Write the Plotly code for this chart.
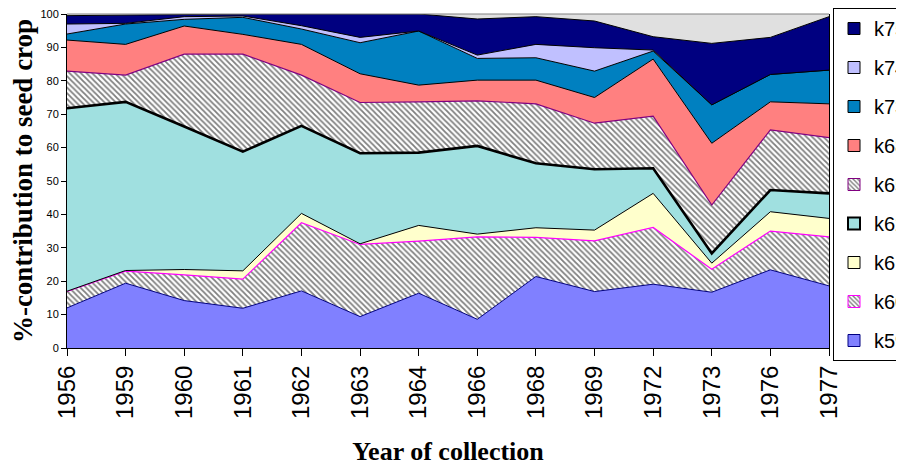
import plotly.graph_objects as go

years = ["1956", "1959", "1960", "1961", "1962", "1963", "1964",
         "1966", "1968", "1969", "1972", "1973", "1976", "1977"]

k59 = [12.0, 19.4, 14.2, 11.9, 17.1, 9.4, 16.4, 8.6, 21.4, 16.9, 19.1, 16.7, 23.4, 18.6]
k60 = [4.9, 3.6, 7.7, 8.7, 20.4, 21.6, 15.6, 24.7, 11.7, 15.2, 17.0, 6.9, 11.6, 14.7]
k61 = [0.1, 0.2, 1.6, 2.5, 2.8, 0.2, 4.7, 0.8, 2.9, 3.2, 10.2, 1.8, 5.8, 5.5]
k62 = [54.8, 50.5, 42.8, 35.7, 26.2, 27.1, 21.8, 26.4, 19.3, 18.2, 7.5, 2.9, 6.5, 7.5]
k65 = [11.1, 8.0, 21.7, 29.2, 15.2, 15.2, 15.2, 13.5, 17.8, 13.8, 15.6, 14.5, 18.0, 16.7]
k68 = [9.3, 9.2, 8.4, 5.9, 9.2, 8.6, 5.0, 6.2, 7.1, 7.7, 17.1, 18.5, 8.4, 10.1]
k73 = [1.8, 6.1, 2.0, 5.1, 4.6, 9.3, 16.2, 6.5, 6.7, 7.9, 2.4, 11.5, 8.2, 10.1]
k74 = [3.0, 0.2, 0.8, 0.4, 1.0, 1.6, 0.0, 1.0, 4.0, 7.0, 0.3, 0.0, 0.0, 0.0]
k75 = [2.5, 2.5, 0.8, 0.6, 3.5, 7.0, 5.1, 10.8, 8.3, 8.0, 4.0, 18.4, 11.1, 16.0]

series_names = ["k59", "k60", "k61", "k62", "k65", "k68", "k73", "k74", "k75"]
series_values = [k59, k60, k61, k62, k65, k68, k73, k74, k75]

HATCH = dict(shape="\\", fgcolor="black", bgcolor="white", size=4, solidity=0.45)
styles = {
    "k59": dict(fill="#8080FF", line="#000080", lw=1, pattern=None),
    "k60": dict(fill="white", line="#FF00FF", lw=1.2, pattern=HATCH),
    "k61": dict(fill="#FFFFCC", line="#000000", lw=1, pattern=None),
    "k62": dict(fill="#A0E0E0", line="#000000", lw=2.6, pattern=None),
    "k65": dict(fill="white", line="#800080", lw=1.2, pattern=HATCH),
    "k68": dict(fill="#FF8080", line="#000000", lw=1, pattern=None),
    "k73": dict(fill="#0080C0", line="#000000", lw=1, pattern=None),
    "k74": dict(fill="#C0C0FF", line="#000000", lw=1, pattern=None),
    "k75": dict(fill="#000080", line="#000000", lw=1, pattern=None),
}

fig = go.Figure()
for name, vals in zip(series_names, series_values):
    s = styles[name]
    kw = dict(x=years, y=vals, name=name, mode="lines", stackgroup="one",
              line=dict(color=s["line"], width=s["lw"]),
              fillcolor=s["fill"], showlegend=False, hoverinfo="x+y+name")
    if s["pattern"]:
        kw["fillpattern"] = s["pattern"]
    fig.add_trace(go.Scatter(**kw))

# legend entries (square swatches), top to bottom k75 ... k59
for name in reversed(series_names):
    s = styles[name]
    marker = dict(color=s["fill"], line=dict(color=s["line"], width=2 if name == "k62" else 1))
    if s["pattern"]:
        marker["pattern"] = dict(shape="\\", fgcolor="black", bgcolor="white", size=4, solidity=0.45)
    fig.add_trace(go.Bar(x=[None], y=[None], name=name, marker=marker,
                         legendgroup=name, showlegend=True))

# page body has an 8px margin, so layout positions are offset by -8px
W, H = 904, 468
fig.update_layout(
    width=W, height=H,
    margin=dict(l=59, r=W - 821, t=6, b=H - 340),
    paper_bgcolor="white",
    plot_bgcolor="#E0E0E0",
    font=dict(family="Liberation Sans, Arial", color="black"),
    showlegend=True,
    legend=dict(
        xref="container", yref="container",
        x=825 / W, y=1.0, xanchor="left", yanchor="top",
        traceorder="grouped", tracegroupgap=10, maxheight=470,
        bgcolor="white", bordercolor="black", borderwidth=1,
        font=dict(family="Liberation Sans, Arial", size=20, color="black"),
    ),
    xaxis=dict(
        type="category", range=[0, len(years) - 1],
        showgrid=False, zeroline=False,
        showline=True, linecolor="black", linewidth=1,
        ticks="outside", ticklen=7, tickcolor="black",
        tickangle=-90, tickfont=dict(family="Liberation Sans, Arial", size=24),
        ticklabeloverflow="allow",
        title=dict(text="<b>Year of collection</b>", standoff=23,
                   font=dict(family="Liberation Serif, Times New Roman", size=26)),
        automargin=False,
    ),
    yaxis=dict(
        range=[0, 100], dtick=10,
        showgrid=False, zeroline=False,
        showline=True, linecolor="black", linewidth=1, mirror=True,
        ticks="outside", ticklen=5, tickcolor="black",
        tickfont=dict(family="Liberation Sans, Arial", size=11),
        ticklabeloverflow="allow",
        title=dict(text="<b>%-contribution to seed crop</b>", standoff=4,
                   font=dict(family="Liberation Serif, Times New Roman", size=27)),
        automargin=False,
    ),
    shapes=[dict(type="line", xref="paper", yref="paper", x0=0, x1=1, y0=1, y1=1,
                 line=dict(color="#808080", width=1))],
)

fig.write_html("out.html")
